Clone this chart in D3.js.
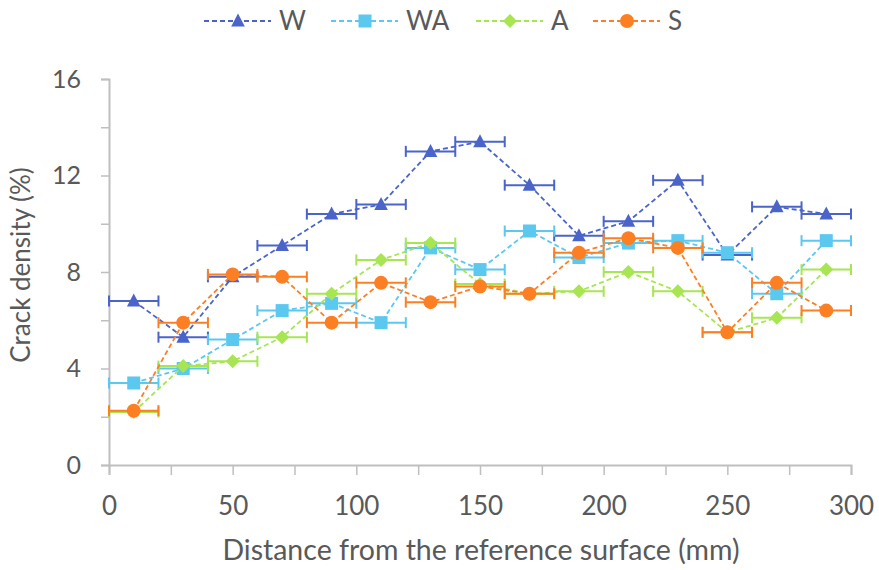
<!DOCTYPE html>
<html>
<head>
<meta charset="utf-8">
<script src="https://cdn.jsdelivr.net/npm/d3@7"></script>
<style>
  body { margin: 0; background: #fff; }
  svg { display: block; font-family: Lato, "Open Sans", sans-serif; }
</style>
</head>
<body>
<div id="chart"></div>
<script>
// distance from reference surface (mm), centre of each 20 mm slice
const distances = [10, 30, 50, 70, 90, 110, 130, 150, 170, 190, 210, 230, 250, 270, 290];
const errHalf = 10;

// crack density (%) per series
const wValues  = [6.8, 5.3, 7.8, 9.1, 10.4, 10.8, 13.0, 13.4, 11.6, 9.5, 10.1, 11.8, 8.7, 10.7, 10.4];
const waValues = [3.4, 4.0, 5.2, 6.4, 6.7, 5.9, 9.0, 8.1, 9.7, 8.6, 9.2, 9.3, 8.8, 7.1, 9.3];
const aValues  = [2.2, 4.1, 4.3, 5.3, 7.1, 8.5, 9.2, 7.5, 7.1, 7.2, 8.0, 7.2, 5.5, 6.1, 8.1];
const sValues  = [2.25, 5.9, 7.9, 7.8, 5.9, 7.55, 6.75, 7.4, 7.1, 8.8, 9.4, 9.0, 5.5, 7.55, 6.4];

const seriesNames = ["W", "WA", "A", "S"];
const seriesColors = ["#4a64c9", "#5bc8f0", "#a7e552", "#fd7f23"];
const seriesShapes = ["triangle", "square", "diamond", "circle"];
const seriesValues = [wValues, waValues, aValues, sValues];

const xTicks = [0, 50, 100, 150, 200, 250, 300];
const yTicks = [0, 4, 8, 12, 16];

const width = 879, height = 570;
const margin = { left: 109, right: 28, top: 79, bottom: 105 };

const svg = d3.select("#chart").append("svg")
	.attr("width", width)
	.attr("height", height);

const x = d3.scaleLinear().domain([0, 300]).range([margin.left, width - margin.right]);
const y = d3.scaleLinear().domain([0, 16]).range([height - margin.bottom, margin.top]);

const axisColor = "#bfbfbf";
const textColor = "#595959";

// axes
const xAxis = svg.append("g")
	.attr("transform", "translate(0," + y(0) + ")")
	.call(d3.axisBottom(x).tickValues(d3.range(0, 301, 25)).tickSize(10).tickFormat(d => xTicks.includes(d) ? d : ""));
xAxis.select(".domain").attr("stroke", axisColor).attr("stroke-width", 2);
xAxis.selectAll(".tick line").attr("stroke", axisColor).attr("stroke-width", 1.5);
xAxis.selectAll(".tick text")
	.attr("fill", textColor).attr("font-size", 26)
	.attr("y", 50).attr("dy", 0)
	.attr("font-family", "Lato, sans-serif");

const yAxis = svg.append("g")
	.attr("transform", "translate(" + x(0) + ",0)")
	.call(d3.axisLeft(y).tickValues(d3.range(0, 17, 2)).tickSize(8).tickPadding(20).tickFormat(d => yTicks.includes(d) ? d : ""));
yAxis.select(".domain").attr("stroke", axisColor).attr("stroke-width", 2);
yAxis.selectAll(".tick line").attr("stroke", axisColor).attr("stroke-width", 1.5);
yAxis.selectAll(".tick text")
	.attr("fill", textColor).attr("font-size", 25)
	.attr("font-family", "Lato, sans-serif");

// axis titles
svg.append("text")
	.attr("x", 481)
	.attr("y", 560)
	.attr("text-anchor", "middle")
	.attr("fill", textColor)
	.attr("font-size", 28.5)
	.text("Distance from the reference surface (mm)");

svg.append("text")
	.attr("transform", "translate(30,265) rotate(-90)")
	.attr("text-anchor", "middle")
	.attr("fill", textColor)
	.attr("font-size", 26)
	.text("Crack density (%)");

function drawMarker(sel, shape, color) {
	if (shape === "circle") {
		sel.append("circle").attr("r", 7).attr("fill", color);
	} else if (shape === "square") {
		sel.append("rect").attr("x", -6.5).attr("y", -6.5).attr("width", 13).attr("height", 13).attr("fill", color);
	} else if (shape === "diamond") {
		sel.append("path").attr("d", "M0,-7L7,0L0,7L-7,0Z").attr("fill", color);
	} else {
		sel.append("path").attr("d", "M0,-7.5L6.8,5.5L-6.8,5.5Z").attr("fill", color);
	}
}

const line = d3.line().x((d, i) => x(distances[i])).y(d => y(d));

// series
seriesValues.forEach((vals, s) => {
	const color = seriesColors[s];
	const g = svg.append("g");

	g.append("path")
		.datum(vals)
		.attr("fill", "none")
		.attr("stroke", color)
		.attr("stroke-width", 1.8)
		.attr("stroke-dasharray", "5,3")
		.attr("d", line);

	const eb = g.selectAll(".eb").data(vals).enter().append("g");
	eb.append("line")
		.attr("x1", (d, i) => x(distances[i] - errHalf))
		.attr("x2", (d, i) => x(distances[i] + errHalf))
		.attr("y1", d => y(d)).attr("y2", d => y(d))
		.attr("stroke", color).attr("stroke-width", 2);
	[-1, 1].forEach(side => {
		eb.append("line")
			.attr("x1", (d, i) => x(distances[i] + side * errHalf))
			.attr("x2", (d, i) => x(distances[i] + side * errHalf))
			.attr("y1", d => y(d) - 5.5).attr("y2", d => y(d) + 5.5)
			.attr("stroke", color).attr("stroke-width", 2);
	});

	g.selectAll(".mk").data(vals).enter().append("g")
		.attr("transform", (d, i) => "translate(" + x(distances[i]) + "," + y(d) + ")")
		.each(function() { drawMarker(d3.select(this), seriesShapes[s], color); });
});

// legend
const legendX = [204, 331, 476, 593];
const legendY = 21;
seriesNames.forEach((name, s) => {
	const color = seriesColors[s];
	const lg = svg.append("g").attr("transform", "translate(" + legendX[s] + "," + legendY + ")");
	lg.append("line")
		.attr("x1", 0).attr("x2", 67).attr("y1", 0).attr("y2", 0)
		.attr("stroke", color).attr("stroke-width", 1.8).attr("stroke-dasharray", "5,3");
	const m = lg.append("g").attr("transform", "translate(34,0)");
	drawMarker(m, seriesShapes[s], color);
	lg.append("text")
		.attr("x", 75).attr("y", 9)
		.attr("fill", textColor)
		.attr("font-size", 26)
		.text(name);
});
</script>
</body>
</html>
